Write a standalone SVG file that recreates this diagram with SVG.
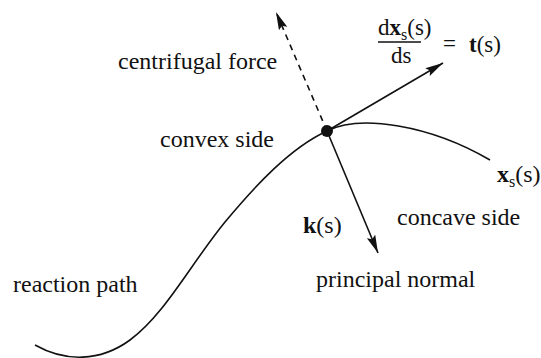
<svg xmlns="http://www.w3.org/2000/svg" width="541" height="358" viewBox="0 0 541 358">
<style>
text{font-family:'Liberation Serif','DejaVu Serif',serif;font-size:24px;fill:#111}
.f{font-size:23px}
.b{font-weight:bold}
.ln{fill:none;stroke:#111;stroke-width:1.6}
</style>
<defs>
<marker id="ah" markerUnits="userSpaceOnUse" markerWidth="20" markerHeight="10" refX="18" refY="4.5" orient="auto">
<path d="M0,0 L18,4.5 L0,9 L3,4.5 z" fill="#111"/>
</marker>
</defs>
<rect width="541" height="358" fill="#fff"/>
<g id="path">
<path class="ln" d="M35,345 C65,362 100,362 130,340 C165,314 190,265 225,222 C255,186 290,148 327,131 C360,114 430,125 490,160"/>
</g>
<g id="connectors">
<path class="ln" d="M327,131 L276,12" stroke-dasharray="6,5" marker-end="url(#ah)"/>
<path class="ln" d="M327,131 L443,63" marker-end="url(#ah)"/>
<path class="ln" d="M327,131 L378,253" marker-end="url(#ah)"/>
</g>
<g id="point"><circle cx="327" cy="131" r="6" fill="#111"/></g>
<g id="labels">
<text x="118" y="69">centrifugal force</text>
<text x="160" y="147">convex side</text>
<text x="13" y="292">reaction path</text>
<text x="316" y="287">principal normal</text>
<text x="397" y="225">concave side</text>
<text x="303" y="233"><tspan class="b">k</tspan>(s)</text>
<text x="497" y="182"><tspan class="b">x</tspan><tspan font-size="16" dy="5">s</tspan><tspan dy="-5">(s)</tspan></text>
</g>
<g id="formula">
<text class="f" x="378" y="35">d<tspan class="b">x</tspan><tspan font-size="16" dy="5">s</tspan><tspan dy="-5">(s)</tspan></text>
<line x1="378" y1="42" x2="421" y2="42" stroke="#111" stroke-width="1.4"/>
<text class="f" x="391" y="63">ds</text>
<text class="f" x="443" y="51">=</text>
<text class="f" x="469" y="52"><tspan class="b">t</tspan>(s)</text>
</g>
</svg>
